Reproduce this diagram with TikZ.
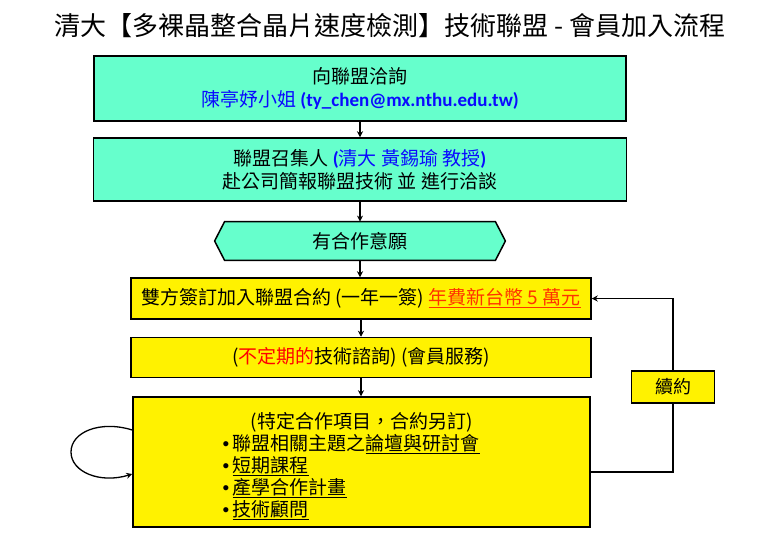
\documentclass[tikz,border=0pt]{standalone}
\usepackage{fontspec}
\setmainfont{Noto Sans CJK TC}
\newfontfamily\latinfont{Carlito}
\newfontfamily\arialfont{Liberation Sans}
\usepackage{tikz}
\usetikzlibrary{arrows.meta,backgrounds}
\definecolor{mint}{HTML}{66FFCC}
\definecolor{mailblue}{HTML}{0A0AFF}
\definecolor{feered}{HTML}{FF3300}
\newcommand{\bul}{\makebox[10pt][l]{\arialfont •}}

\begin{document}
\begin{tikzpicture}[x=1pt, y=-1pt, thick, >={Stealth[length=6pt,width=6pt]},
  tbox/.style={draw=black, line width=1.5pt, fill=mint, align=center, font=\fontsize{19}{23}\selectfont},
  ybox/.style={draw=black, line width=1.5pt, fill=yellow, align=center, font=\fontsize{19}{22}\selectfont},
  flow/.style={->, line width=1.3pt},
  link/.style={line width=1.3pt}]
\useasboundingbox (0,0) rectangle (761,558);
\node[font=\fontsize{26}{30}\selectfont] (title) at (390,26) {清大【多裸晶整合晶片速度檢測】技術聯盟 - 會員加入流程};
\node[tbox, minimum width=532pt, minimum height=65pt] (ask) at (360,88.5)
  {向聯盟洽詢\\ \textcolor{mailblue}{陳亭妤小姐 {\latinfont\bfseries (ty\_chen@mx.nthu.edu.tw)}}};
\node[tbox, minimum width=533pt, minimum height=63pt] (visit) at (360,169.5)
  {聯盟召集人 \textcolor{mailblue}{{\latinfont\bfseries(}清大 黃錫瑜 教授{\latinfont\bfseries)}}\\ 赴公司簡報聯盟技術 並 進行洽談};
\node[font=\fontsize{19}{22}\selectfont, minimum width=270pt, minimum height=38pt] (will) at (360,241) {有合作意願};
\begin{scope}[on background layer]
\draw[line width=1.5pt, fill=mint] (will.north west) -- (will.north east) -- ([xshift=10pt]will.east)
  -- (will.south east) -- (will.south west) -- ([xshift=-10pt]will.west) -- cycle;
\end{scope}
\node[ybox, minimum width=460pt, minimum height=41pt] (sign) at (361,298.5)
  {雙方簽訂加入聯盟合約 (一年一簽) \textcolor{feered}{\underline{年費新台幣 5 萬元}}};
\node[ybox, minimum width=460pt, minimum height=40pt] (serv) at (361,357.5)
  {(\textcolor{red}{不定期的}技術諮詢) (會員服務)};
\node[ybox, minimum width=457pt, minimum height=130pt] (proj) at (361.5,462) {};
\node[align=left, anchor=west, font=\fontsize{19}{22}\selectfont] (projlist) at (219,466)
  {\hspace*{28pt}(特定合作項目，合約另訂)\\
   \bul 聯盟相關主題之\underline{論壇與研討會}\\
   \bul \underline{短期課程}\\
   \bul \underline{產學合作計畫}\\
   \bul \underline{技術顧問}};
\node[ybox, minimum width=83pt, minimum height=32pt, font=\fontsize{18}{20}\selectfont] (renew) at (673,387) {續約};
% main flow
\draw[flow] (ask.south) -- (visit.north);
\draw[flow] (visit.south) -- (will.north);
\draw[flow] (will.south) -- (will.south |- sign.north);
\draw[flow] (sign.south) -- (serv.north);
\draw[flow] (serv.south) -- (serv.south |- proj.north);
% renewal loop
\draw[link] ([yshift=-10pt]proj.east) -| (renew.south);
\draw[flow] (renew.north) |- (sign.east);
% self loop
\draw[flow] ([yshift=32pt]proj.west) .. controls (100,420) and (71,432) .. (71,452)
  .. controls (71,472) and (100,484) .. ([yshift=-12pt]proj.west);
\end{tikzpicture}
\end{document}
